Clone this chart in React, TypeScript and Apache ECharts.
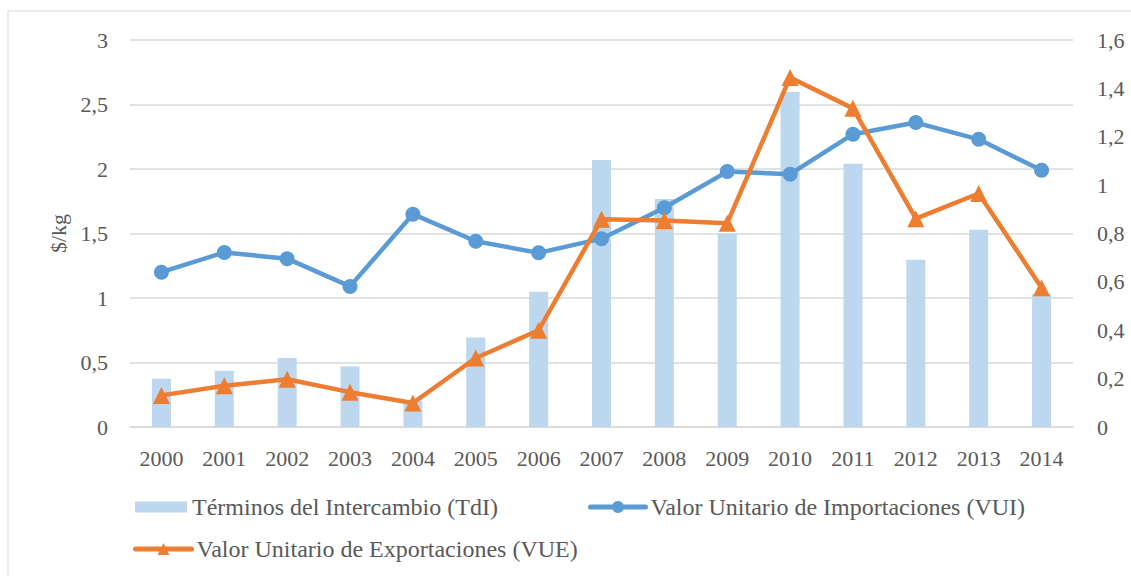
import React, { useEffect, useRef } from "react";
import * as echarts from "echarts";

const years = ["2000","2001","2002","2003","2004","2005","2006","2007","2008","2009","2010","2011","2012","2013","2014"];
const tdi = [0.20, 0.233, 0.285, 0.25, 0.11, 0.37, 0.559, 1.104, 0.943, 0.80, 1.385, 1.088, 0.691, 0.815, 0.551];
const vui = [1.20, 1.353, 1.305, 1.09, 1.65, 1.44, 1.35, 1.46, 1.70, 1.98, 1.96, 2.27, 2.36, 2.23, 1.99];
const vue = [0.245, 0.32, 0.37, 0.27, 0.186, 0.535, 0.75, 1.61, 1.60, 1.58, 2.71, 2.47, 1.615, 1.81, 1.08];

const nameTdI = "Términos del Intercambio (TdI)";
const nameVUI = "Valor Unitario de Importaciones (VUI)";
const nameVUE = "Valor Unitario de Exportaciones (VUE)";

const FONT = "Liberation Serif";
const TXT = "#595959";
const fmt = (v: number) => String(Math.round(v * 10) / 10).replace(".", ",");

export default function App() {
  const ref = useRef<HTMLDivElement>(null);
  useEffect(() => {
    if (!ref.current) return;
    const chart = echarts.init(ref.current, undefined, { renderer: "svg" });
    const legendText = { color: TXT, fontFamily: FONT, fontSize: 24 };
    chart.setOption({
      animation: false,
      backgroundColor: "#ffffff",
      graphic: [
        {
          type: "rect",
          shape: { x: 8, y: 11, width: 1200, height: 700 },
          style: { fill: "none", stroke: "#d9d9d9", lineWidth: 1 },
          silent: true,
        },
      ],
      grid: { left: 130, right: 58, top: 40, bottom: 149 },
      legend: [
        {
          data: [{ name: nameTdI, icon: "rect" }],
          left: 130,
          top: 490,
          itemWidth: 52,
          itemHeight: 11,
          itemGap: 6,
          textStyle: legendText,
        },
        {
          data: [nameVUI],
          left: 583,
          top: 490,
          itemWidth: 55,
          itemHeight: 15,
          textStyle: legendText,
          lineStyle: { width: 5, cap: "round" },
        },
        {
          data: [nameVUE],
          left: 128,
          top: 532,
          itemWidth: 56,
          itemHeight: 15,
          textStyle: legendText,
          lineStyle: { width: 5, cap: "round" },
        },
      ],
      xAxis: {
        type: "category",
        data: years,
        axisLine: { show: true, lineStyle: { color: "#d9d9d9", width: 1.5 } },
        axisTick: { show: false },
        axisLabel: { color: TXT, fontFamily: FONT, fontSize: 22, margin: 20 },
      },
      yAxis: [
        {
          type: "value",
          min: 0,
          max: 3,
          interval: 0.5,
          name: "$/kg",
          nameLocation: "middle",
          nameRotate: 90,
          nameGap: 60,
          nameTextStyle: { color: TXT, fontFamily: FONT, fontSize: 22 },
          axisLine: { show: false },
          axisTick: { show: false },
          splitLine: { show: true, lineStyle: { color: "#d9d9d9", width: 1.5 } },
          axisLabel: { color: TXT, fontFamily: FONT, fontSize: 22, margin: 22, formatter: fmt },
        },
        {
          type: "value",
          min: 0,
          max: 1.6,
          interval: 0.2,
          position: "right",
          axisLine: { show: false },
          axisTick: { show: false },
          splitLine: { show: false },
          axisLabel: { color: TXT, fontFamily: FONT, fontSize: 22, margin: 24, formatter: fmt },
        },
      ],
      series: [
        {
          name: nameTdI,
          type: "bar",
          yAxisIndex: 1,
          data: tdi,
          barWidth: 19,
          itemStyle: { color: "#BDD7EE" },
          z: 1,
        },
        {
          name: nameVUI,
          type: "line",
          yAxisIndex: 0,
          data: vui,
          symbol: "circle",
          symbolSize: 15,
          lineStyle: { color: "#5B9BD5", width: 4.5 },
          itemStyle: { color: "#5B9BD5" },
          z: 3,
        },
        {
          name: nameVUE,
          type: "line",
          yAxisIndex: 0,
          data: vue,
          symbol: "triangle",
          symbolSize: 17,
          lineStyle: { color: "#ED7D31", width: 4.5 },
          itemStyle: { color: "#ED7D31" },
          z: 4,
        },
      ],
    });
    return () => chart.dispose();
  }, []);
  return (
    <div
      ref={ref}
      style={{ position: "fixed", left: 0, top: 0, width: 1131, height: 576 }}
    />
  );
}
